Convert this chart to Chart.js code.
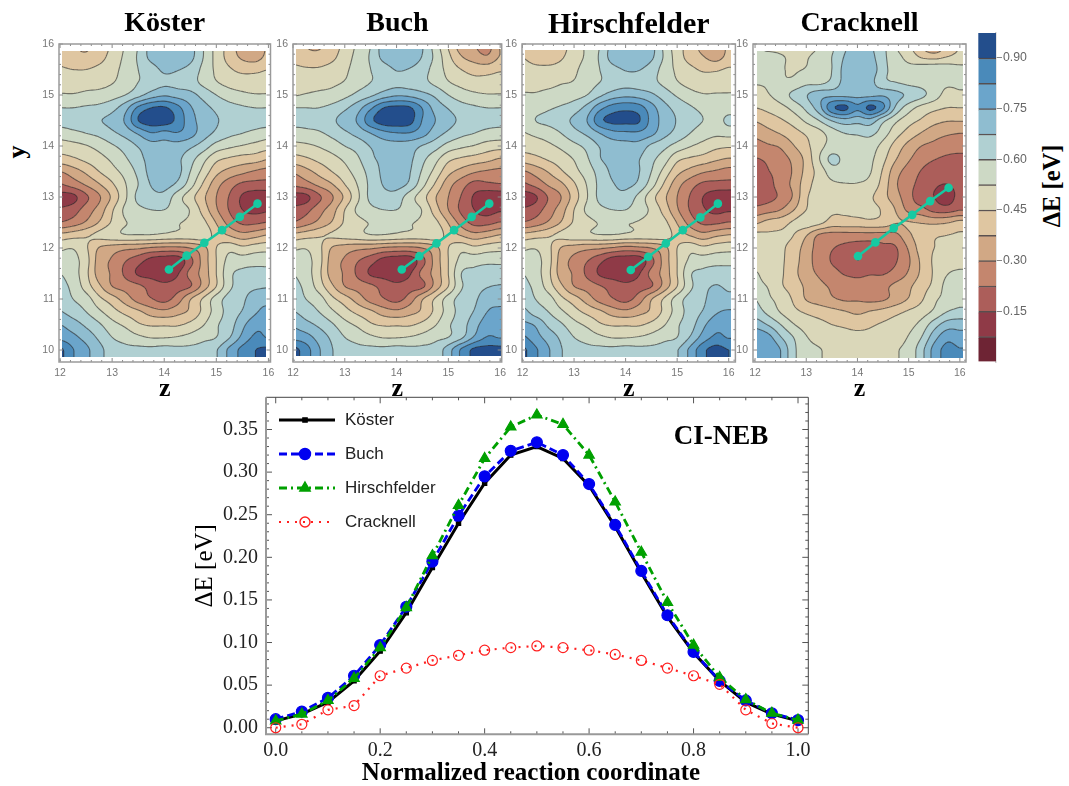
<!DOCTYPE html>
<html>
<head>
<meta charset="utf-8">
<script src="https://cdn.jsdelivr.net/npm/chart.js@4"></script>
<style>
body { margin: 0; background: #fff; width: 1069px; height: 786px; overflow: hidden; position: relative; }
canvas { position: absolute; }
.rot { position: absolute; font-family: "Liberation Serif", serif; font-weight: bold; color: #000; transform: translate(-50%, -50%) rotate(-90deg); white-space: nowrap; }
.xlabel { position: absolute; font-family: "Liberation Serif", serif; font-weight: bold; color: #000; transform: translate(-50%, -50%); white-space: nowrap; z-index: 2; }
</style>
</head>
<body>
<div class="rot" style="left:17px;top:152px;font-size:26px">y</div>
<div class="rot" style="left:1052px;top:186px;font-size:24.5px">ΔE [eV]</div>
<div class="xlabel" style="left:531px;top:772px;font-size:25px">Normalized reaction coordinate</div>
<script>
// potential maps, values in units of 0.01 eV
const zNodes = [12, 12.25, 12.5, 12.75, 13, 13.25, 13.5, 13.75, 14, 14.25, 14.5, 14.75, 15, 15.25, 15.5, 15.75, 16];
const yNodes = [16, 15.75, 15.5, 15.25, 15, 14.75, 14.5, 14.25, 14, 13.75, 13.5, 13.25, 13, 12.75, 12.5, 12.25, 12, 11.75, 11.5, 11.25, 11, 10.75, 10.5, 10.25, 10];

const kosterMap = [
  [42,38,36,40,46,53,60,70,72,72,70,60,50,42,33,28,40],
  [43,40,39,42,48,54,61,70,74,74,70,60,50,42,36,34,40],
  [46,45,45,47,50,55,60,64,69,68,65,58,51,46,43,43,45],
  [51,50,50,50,52,56,60,63,66,65,63,58,53,50,49,49,50],
  [53,53,54,55,57,60,65,71,74,72,70,65,60,56,54,53,53],
  [60,60,61,62,65,72,84,90,91,85,76,70,66,63,61,60,60],
  [63,64,65,67,70,76,90,94,94,88,78,72,68,66,64,63,63],
  [56,58,60,62,66,70,76,82,80,82,78,71,66,62,60,58,56],
  [49,50,52,55,59,63,68,72,72,72,69,64,57,54,52,50,48],
  [42,44,47,50,54,59,65,70,70,69,63,55,47,44,42,41,38],
  [30,34,39,45,50,55,62,70,71,70,60,50,40,35,32,29,27],
  [22,26,31,37,44,52,60,68,70,66,56,44,33,26,21,20,20],
  [12,13,21,29,39,51,62,65,65,56,48,39,30,22,14,11,11],
  [16,19,26,33,44,54,58,60,60,56,52,42,31,22,15,13,14],
  [23,26,31,38,46,52,54,54,54,53,51,47,37,27,21,21,23],
  [40,42,44,47,50,52,52,52,51,50,50,50,42,37,33,35,38],
  [51,52,46,37,34,32,31,29,28,28,30,35,45,50,47,49,50],
  [56,55,48,34,29,23,18,12,10,10,20,33,45,55,56,57,57],
  [60,56,47,34,29,21,14,12,10,14,25,33,45,58,62,63,63],
  [62,58,49,39,30,27,24,20,17,19,22,33,45,58,64,66,67],
  [64,60,56,47,41,34,27,23,20,26,37,46,56,63,66,72,72],
  [68,64,60,54,48,43,39,34,32,35,39,47,56,63,68,74,78],
  [75,71,66,61,55,51,46,44,44,44,47,52,59,64,73,80,82],
  [80,77,72,66,60,57,54,52,52,53,55,58,60,67,77,84,82],
  [92,83,77,70,64,62,62,62,63,62,62,63,67,77,85,90,92]
];
const buchMap = [
  [40,37,36,41,47,54,60,71,73,72,68,56,44,33,30,26,38],
  [42,40,40,43,49,55,61,70,73,73,67,58,47,38,34,31,38],
  [47,46,46,48,51,56,60,64,68,67,63,57,50,45,42,42,44],
  [50,50,50,51,53,57,60,63,65,64,62,58,53,50,48,48,49],
  [52,53,54,55,58,62,66,71,74,73,70,66,60,56,54,53,53],
  [60,60,60,62,66,72,81,90,92,91,82,72,67,63,61,60,60],
  [62,62,63,66,71,76,88,94,95,93,82,75,70,66,63,62,62],
  [57,58,59,62,66,70,75,80,82,82,78,71,66,62,60,58,57],
  [50,51,53,56,60,63,68,71,72,71,67,63,57,54,52,49,48],
  [42,44,47,50,54,59,66,69,70,69,62,55,47,44,42,40,37],
  [31,35,40,45,50,56,63,69,70,68,59,50,40,35,31,29,28],
  [24,27,32,37,45,53,62,68,70,66,55,44,33,26,20,21,22],
  [12,13,21,29,39,51,62,65,64,56,48,38,30,22,14,10,10],
  [17,20,27,34,45,54,58,60,60,56,52,41,30,21,15,12,14],
  [23,27,32,38,46,50,53,53,53,53,51,47,37,27,20,20,23],
  [40,42,44,46,48,50,52,52,51,50,50,50,42,37,33,35,38],
  [51,52,47,37,34,32,31,29,28,28,30,35,45,50,47,49,50],
  [57,55,48,34,29,23,18,12,10,10,20,33,45,55,57,58,58],
  [60,56,47,34,29,21,14,12,10,14,25,33,45,60,62,64,64],
  [62,58,49,39,30,27,24,20,17,19,21,33,45,59,64,67,68],
  [64,60,56,47,41,34,27,23,20,26,37,46,56,63,66,72,72],
  [68,64,60,54,48,43,39,34,32,35,39,47,56,63,68,75,77],
  [74,70,66,61,55,51,46,44,44,44,47,52,59,64,72,79,80],
  [80,78,72,66,60,57,54,52,52,53,55,58,60,66,76,83,82],
  [93,86,76,68,64,62,62,62,63,62,62,63,72,84,92,93,93]
];
const hirschMap = [
  [44,40,38,42,48,54,60,70,72,72,70,58,48,42,34,28,40],
  [45,42,41,44,49,54,61,71,73,73,69,59,49,42,38,34,40],
  [48,47,47,48,51,56,60,65,68,68,64,57,51,47,44,44,46],
  [51,51,51,52,53,57,60,63,65,64,62,58,53,50,49,49,50],
  [53,53,54,55,57,60,66,71,73,72,69,64,59,55,53,53,53],
  [56,57,59,61,64,70,80,86,88,86,78,70,65,61,58,55,56],
  [55,60,62,65,69,75,88,92,92,91,80,72,67,63,60,57,62],
  [52,54,56,60,65,69,75,80,81,81,77,70,65,60,56,54,55],
  [48,49,51,54,58,62,68,71,72,72,66,62,57,53,50,47,46],
  [41,43,46,49,53,59,67,70,70,68,62,56,47,44,42,39,37],
  [29,33,38,44,50,56,63,69,70,68,60,50,40,35,31,29,27],
  [21,25,31,36,44,53,62,67,69,66,56,44,33,26,21,20,20],
  [11,14,23,30,41,52,62,65,65,58,48,39,30,22,15,11,10],
  [16,19,26,34,45,54,58,60,60,56,51,42,31,22,16,13,14],
  [23,26,31,38,46,50,53,53,53,52,50,47,37,27,21,21,23],
  [40,42,44,47,50,51,52,52,51,50,50,49,42,37,33,36,38],
  [51,52,47,37,34,32,31,29,27,28,30,35,45,50,47,49,50],
  [56,55,48,34,28,23,17,11,10,10,20,33,45,54,56,57,57],
  [60,56,47,34,29,21,14,11,10,14,25,33,45,59,62,64,64],
  [62,58,49,39,30,27,23,20,17,19,22,33,45,58,65,68,66],
  [65,60,56,47,41,34,27,23,20,26,37,46,56,63,66,72,70],
  [70,64,60,54,48,43,39,34,32,35,39,47,56,63,68,74,76],
  [77,74,66,61,55,51,46,44,44,44,47,52,59,64,73,80,81],
  [84,78,72,66,60,57,54,52,52,53,55,58,60,68,78,84,82],
  [92,84,76,68,64,62,62,62,63,62,62,63,67,77,88,93,90]
];
const cracknellMap = [
  [50,47,50,52,50,52,58,66,70,68,62,52,46,36,28,38,45],
  [57,56,53,52,52,55,60,68,72,70,62,55,50,44,42,45,47],
  [58,55,53,52,53,56,60,70,74,72,63,56,55,57,58,57,55],
  [53,53,53,54,58,58,62,70,73,70,62,60,58,57,55,54,54],
  [51,52,56,62,67,72,73,73,73,73,74,70,66,62,56,50,51],
  [45,47,50,55,62,72,88,92,84,92,84,66,56,50,47,45,45],
  [38,41,44,48,54,60,68,72,70,72,62,54,48,44,40,38,38],
  [32,35,38,42,46,50,56,60,61,62,56,48,42,37,33,31,30],
  [27,29,31,37,43,50,55,56,56,56,50,42,35,30,28,26,26],
  [22,24,27,32,40,52,62,58,56,54,47,38,31,26,23,21,20],
  [17,22,25,31,40,48,56,57,56,53,44,33,27,22,18,16,17],
  [18,20,26,32,42,48,51,52,52,50,42,31,25,20,16,15,17],
  [18,20,24,31,44,47,47,47,47,46,40,33,25,18,15,11,18],
  [25,27,30,37,45,47,46,46,47,47,44,37,28,25,20,19,22],
  [36,40,42,46,49,47,42,42,42,43,42,38,38,37,36,37,40],
  [47,46,46,45,38,29,27,27,27,27,27,28,36,41,44,45,46],
  [47,46,46,42,34,27,23,21,19,19,21,22,31,41,45,46,47],
  [47,46,46,41,33,27,22,20,15,18,20,22,29,39,46,47,47],
  [54,47,46,40,33,29,25,22,21,22,22,25,31,39,46,52,55],
  [56,52,46,42,36,32,29,27,25,26,28,32,36,42,47,55,57],
  [60,54,50,44,37,34,31,29,29,28,29,33,38,44,51,55,58],
  [64,58,52,47,44,42,40,38,36,38,40,43,46,49,54,60,62],
  [72,67,60,53,49,47,45,44,43,44,46,48,50,55,64,71,72],
  [82,78,68,60,53,50,48,47,47,47,49,50,53,60,72,80,78],
  [80,82,75,62,55,53,51,50,52,50,50,52,55,65,78,85,83]
];

// reaction paths on the maps
const kosterPathZ = [14.09, 14.43, 14.77, 15.11, 15.45, 15.79];
const kosterPathY = [11.58, 11.85, 12.10, 12.35, 12.61, 12.87];
const buchPathZ = [14.10, 14.44, 14.77, 15.11, 15.45, 15.79];
const buchPathY = [11.58, 11.84, 12.09, 12.35, 12.61, 12.87];
const hirschPathZ = [14.10, 14.44, 14.78, 15.11, 15.45, 15.79];
const hirschPathY = [11.57, 11.83, 12.09, 12.35, 12.60, 12.87];
const cracknellPathZ = [14.01, 14.35, 14.71, 15.07, 15.42, 15.78];
const cracknellPathY = [11.84, 12.11, 12.39, 12.65, 12.92, 13.18];

// colour bar
const bandEdges = [0, 0.075, 0.15, 0.225, 0.3, 0.375, 0.45, 0.525, 0.6, 0.675, 0.75, 0.825, 0.9, 0.974];

// CI-NEB curves
const coord = [0, 0.05, 0.1, 0.15, 0.2, 0.25, 0.3, 0.35, 0.4, 0.45, 0.5, 0.55, 0.6, 0.65, 0.7, 0.75, 0.8, 0.85, 0.9, 0.95, 1];
const kosterE = [0.008, 0.016, 0.030, 0.055, 0.090, 0.135, 0.188, 0.240, 0.287, 0.320, 0.330, 0.316, 0.284, 0.236, 0.182, 0.130, 0.088, 0.055, 0.030, 0.016, 0.008];
const buchE = [0.010, 0.019, 0.035, 0.061, 0.097, 0.142, 0.195, 0.249, 0.295, 0.325, 0.335, 0.320, 0.286, 0.238, 0.184, 0.132, 0.089, 0.055, 0.032, 0.017, 0.009];
const hirschE = [0.008, 0.016, 0.032, 0.058, 0.094, 0.141, 0.202, 0.261, 0.316, 0.353, 0.367, 0.356, 0.320, 0.265, 0.206, 0.147, 0.097, 0.059, 0.033, 0.017, 0.009];
const cracknellE = [0.000, 0.004, 0.021, 0.026, 0.061, 0.070, 0.079, 0.085, 0.091, 0.094, 0.096, 0.094, 0.091, 0.086, 0.079, 0.070, 0.061, 0.051, 0.021, 0.005, 0.000];

const bandColors = ['#6e2434', '#8f3a47', '#ac5e5a', '#c4866e', '#d1a885', '#dfc6a1', '#dad7b9', '#cdd9c5', '#b0d0d2', '#8fbdd0', '#6ba5cb', '#4a8aba', '#234e8c'];
const teal = '#16c9a2';
const serif = '"Liberation Serif", serif';
const sans = '"Liberation Sans", sans-serif';

Chart.defaults.animation = false;
Chart.defaults.responsive = false;

function makeCanvas(left, top, width, height) {
    let c = document.createElement('canvas');
    c.width = width;
    c.height = height;
    c.style.left = left + 'px';
    c.style.top = top + 'px';
    document.body.appendChild(c);
    return c;
}

function cubic(a, b, c, d, t) {
    return b + 0.5 * t * (c - a + t * (2 * a - 5 * b + 4 * c - d + t * (3 * (b - c) + d - a)));
}

// smooth lookup between the read nodes, only used for drawing
function sampleMap(map, z, y) {
    let fx = (z - zNodes[0]) / (zNodes[1] - zNodes[0]);
    let fy = (y - yNodes[0]) / (yNodes[1] - yNodes[0]);
    fx = Math.max(0, Math.min(zNodes.length - 1.001, fx));
    fy = Math.max(0, Math.min(yNodes.length - 1.001, fy));
    let ix = Math.floor(fx), iy = Math.floor(fy);
    let rows = [];
    for (let j = -1; j <= 2; j++) {
        let r = map[Math.max(0, Math.min(yNodes.length - 1, iy + j))];
        let at = k => r[Math.max(0, Math.min(zNodes.length - 1, ix + k))];
        rows.push(cubic(at(-1), at(0), at(1), at(2), fx - ix));
    }
    return cubic(rows[0], rows[1], rows[2], rows[3], fy - iy) / 100;
}

function hexToRgb(h) {
    return [parseInt(h.slice(1, 3), 16), parseInt(h.slice(3, 5), 16), parseInt(h.slice(5, 7), 16)];
}

function drawTicks(ctx, chart, scale, step, bigEvery, bigLen, smallLen, color) {
    let a = chart.chartArea;
    let horizontal = scale.isHorizontal();
    let first = Math.ceil(scale.min / step - 1e-6);
    let last = Math.floor(scale.max / step + 1e-6);
    ctx.strokeStyle = color;
    ctx.lineWidth = 1;
    for (let i = first; i <= last; i++) {
        let p = scale.getPixelForValue(i * step);
        let len = i % bigEvery === 0 ? bigLen : smallLen;
        ctx.beginPath();
        if (horizontal) {
            ctx.moveTo(p, a.bottom); ctx.lineTo(p, a.bottom - len);
            ctx.moveTo(p, a.top); ctx.lineTo(p, a.top + len);
        } else {
            ctx.moveTo(a.left, p); ctx.lineTo(a.left + len, p);
            ctx.moveTo(a.right, p); ctx.lineTo(a.right - len, p);
        }
        ctx.stroke();
    }
}

const mapPlugin = {
    id: 'mapPlugin',
    beforeDatasetsDraw(chart, args, opts) {
        const ctx = chart.ctx;
        const sx = chart.scales.x, sy = chart.scales.y;
        const x0 = Math.round(sx.getPixelForValue(opts.zFrom)), x1 = Math.round(sx.getPixelForValue(opts.zTo));
        const y0 = Math.round(sy.getPixelForValue(opts.yFrom)), y1 = Math.round(sy.getPixelForValue(opts.yTo));
        const w = x1 - x0, h = y1 - y0;
        const rgb = bandColors.map(hexToRgb);

        // filled bands
        let off = document.createElement('canvas');
        off.width = w; off.height = h;
        let octx = off.getContext('2d');
        let img = octx.createImageData(w, h);
        for (let j = 0; j < h; j++) {
            let y = sy.getValueForPixel(y0 + j + 0.5);
            for (let i = 0; i < w; i++) {
                let v = sampleMap(opts.map, sx.getValueForPixel(x0 + i + 0.5), y);
                let b = Math.max(0, Math.min(bandColors.length - 1, Math.floor(v / 0.075)));
                let k = (j * w + i) * 4;
                img.data[k] = rgb[b][0]; img.data[k + 1] = rgb[b][1]; img.data[k + 2] = rgb[b][2]; img.data[k + 3] = 255;
            }
        }
        octx.putImageData(img, 0, 0);
        ctx.drawImage(off, x0, y0);

        // contour lines by marching squares on a 2px lattice
        const cell = 2;
        const nx = Math.ceil(w / cell), ny = Math.ceil(h / cell);
        let vals = [];
        for (let j = 0; j <= ny; j++) {
            let row = [];
            let y = sy.getValueForPixel(y0 + j * cell);
            for (let i = 0; i <= nx; i++) row.push(sampleMap(opts.map, sx.getValueForPixel(x0 + i * cell), y));
            vals.push(row);
        }
        ctx.save();
        ctx.beginPath();
        ctx.rect(x0, y0, w, h);
        ctx.clip();
        ctx.strokeStyle = 'rgba(45,45,45,0.62)';
        ctx.lineWidth = 1.1;
        for (let e = 1; e < bandEdges.length - 1; e++) {
            let lev = bandEdges[e];
            ctx.beginPath();
            for (let j = 0; j < ny; j++) {
                for (let i = 0; i < nx; i++) {
                    let a = vals[j][i], b = vals[j][i + 1], c = vals[j + 1][i + 1], d = vals[j + 1][i];
                    let px = x0 + i * cell, py = y0 + j * cell;
                    let pts = [];
                    if ((a < lev) !== (b < lev)) pts.push([px + cell * (lev - a) / (b - a), py]);
                    if ((b < lev) !== (c < lev)) pts.push([px + cell, py + cell * (lev - b) / (c - b)]);
                    if ((d < lev) !== (c < lev)) pts.push([px + cell * (lev - d) / (c - d), py + cell]);
                    if ((a < lev) !== (d < lev)) pts.push([px, py + cell * (lev - a) / (d - a)]);
                    for (let p = 0; p + 1 < pts.length; p += 2) {
                        ctx.moveTo(pts[p][0], pts[p][1]);
                        ctx.lineTo(pts[p + 1][0], pts[p + 1][1]);
                    }
                }
            }
            ctx.stroke();
        }
        ctx.restore();

        // frame and inward ticks
        let a = chart.chartArea;
        drawTicks(ctx, chart, sx, 0.2, 5, 4, 2, '#8a8a8a');
        drawTicks(ctx, chart, sy, 0.2, 5, 4, 2, '#8a8a8a');
        ctx.strokeStyle = '#9a9a9a';
        ctx.lineWidth = 1.5;
        ctx.strokeRect(a.left, a.top, a.right - a.left, a.bottom - a.top);
    }
};

const panelNames = ['Köster', 'Buch', 'Hirschfelder', 'Cracknell'];
const panelTitleSize = [28, 28, 30, 28];
const panelMaps = [kosterMap, buchMap, hirschMap, cracknellMap];
const panelPathZ = [kosterPathZ, buchPathZ, hirschPathZ, cracknellPathZ];
const panelPathY = [kosterPathY, buchPathY, hirschPathY, cracknellPathY];
const frames = [
    {left: 59, right: 270.5, zMin: 11.98, zMax: 16.04, from: 12.04, to: 15.95, yFrom: 15.87, yTo: 9.86},
    {left: 293, right: 501.7, zMin: 12.0, zMax: 16.03, from: 12.05, to: 16.02, yFrom: 15.9, yTo: 9.88},
    {left: 522.3, right: 735.7, zMin: 11.99, zMax: 16.13, from: 12.05, to: 16.05, yFrom: 15.88, yTo: 9.87},
    {left: 753, right: 966, zMin: 11.96, zMax: 16.12, from: 12.04, to: 16.06, yFrom: 15.86, yTo: 9.84}
];

panelNames.forEach(function (name, n) {
    const f = frames[n];
    const axisW = 30, padR = 10;
    const c = makeCanvas(f.left - axisW, 0, Math.ceil(f.right - f.left + axisW + padR), 402);
    const realW = c.width;
    const titleH = panelTitleSize[n] * 1.2;
    new Chart(c.getContext('2d'), {
        type: 'scatter',
        data: {
            datasets: [{
                data: panelPathZ[n].map((z, i) => ({x: z, y: panelPathY[n][i]})),
                showLine: true,
                borderColor: teal,
                backgroundColor: teal,
                borderWidth: 2.5,
                pointRadius: 4.3,
                pointBorderWidth: 0
            }]
        },
        options: {
            layout: {padding: {right: realW - axisW - (f.right - f.left)}},
            plugins: {
                legend: {display: false},
                tooltip: {enabled: false},
                title: {
                    display: true,
                    text: name,
                    color: '#000',
                    fullSize: false,
                    font: {family: serif, weight: 'bold', size: panelTitleSize[n], lineHeight: 1.2},
                    padding: {top: 7, bottom: 44 - 7 - titleH}
                },
                mapPlugin: {map: panelMaps[n], zFrom: f.from, zTo: f.to, yFrom: f.yFrom, yTo: f.yTo}
            },
            scales: {
                x: {
                    type: 'linear',
                    min: f.zMin,
                    max: f.zMax,
                    grid: {display: false, drawTicks: false},
                    border: {display: false},
                    ticks: {stepSize: 1, includeBounds: false, padding: 5, maxRotation: 0, color: '#777', font: {family: sans, size: 10.5}},
                    title: {display: true, text: 'z', color: '#000', font: {family: serif, weight: 'bold', size: 26, lineHeight: 1}, padding: 0},
                    afterFit: s => { s.height = 40; }
                },
                y: {
                    type: 'linear',
                    min: 9.765,
                    max: 16,
                    grid: {display: false, drawTicks: false},
                    border: {display: false},
                    ticks: {stepSize: 1, includeBounds: false, padding: 5, color: '#777', font: {family: sans, size: 10.5}},
                    afterFit: s => { s.width = axisW; }
                }
            }
        },
        plugins: [mapPlugin]
    });
});

// colour bar
new Chart(makeCanvas(970, 0, 70, 400).getContext('2d'), {
    type: 'bar',
    data: {
        labels: ['ΔE'],
        datasets: bandColors.map((col, i) => ({
            data: [[bandEdges[i], bandEdges[i + 1]]],
            backgroundColor: col,
            borderColor: 'rgba(50,40,40,0.8)',
            borderWidth: i < bandColors.length - 1 ? {top: 1.5} : 0,
            borderSkipped: false,
            grouped: false,
            barPercentage: 1,
            categoryPercentage: 1
        }))
    },
    options: {
        layout: {padding: {left: 8.3, top: 33, bottom: 38}},
        plugins: {legend: {display: false}, tooltip: {enabled: false}},
        scales: {
            x: {display: false},
            y: {
                position: 'right',
                min: 0,
                max: 0.974,
                grid: {drawOnChartArea: false, tickLength: 6, tickColor: c => c.tick && c.tick.value > 0 ? '#888' : 'rgba(0,0,0,0)'},
                border: {display: true, color: '#ccc', width: 1.5},
                ticks: {
                    stepSize: 0.15,
                    includeBounds: false,
                    padding: 1,
                    color: '#666',
                    font: {family: sans, size: 12.3},
                    callback: v => v > 0 ? v.toFixed(2) : ''
                },
                afterFit: s => { s.width = 44; }
            }
        }
    }
});

// CI-NEB energy profile
const seriesNames = ['Köster', 'Buch', 'Hirschfelder', 'Cracknell'];
const seriesColors = ['#000000', '#0000f0', '#00a000', '#ff2020'];
const seriesDash = [[], [8, 4], [8, 4, 2, 4], [2, 6]];
const seriesWidth = [3, 2.8, 2.8, 2.2];
const seriesPoint = ['rect', 'circle', 'triangle', 'circle'];
const seriesRadius = [3, 5.5, 6, 5];

function markerFill(i) {
    return i === 3 ? 'rgba(0,0,0,0)' : seriesColors[i];
}

const profilePlugin = {
    id: 'profilePlugin',
    beforeDatasetsDraw(chart) {
        const ctx = chart.ctx;
        const a = chart.chartArea;
        drawTicks(ctx, chart, chart.scales.x, 0.05, 4, 6, 3, '#555');
        drawTicks(ctx, chart, chart.scales.y, 0.01, 5, 6, 3, '#555');
        ctx.strokeStyle = '#444';
        ctx.lineWidth = 1;
        ctx.beginPath();
        ctx.moveTo(a.left, a.top); ctx.lineTo(a.right, a.top); ctx.lineTo(a.right, a.bottom);
        ctx.stroke();
        ctx.strokeStyle = '#999';
        ctx.lineWidth = 2;
        ctx.beginPath();
        ctx.moveTo(a.left, a.top); ctx.lineTo(a.left, a.bottom); ctx.lineTo(a.right, a.bottom);
        ctx.stroke();
    },
    afterDatasetsDraw(chart) {
        const ctx = chart.ctx;
        const rowY = [60, 94, 128, 162];
        ctx.save();
        seriesNames.forEach(function (name, i) {
            ctx.strokeStyle = seriesColors[i];
            ctx.lineWidth = seriesWidth[i];
            ctx.setLineDash(seriesDash[i]);
            ctx.beginPath();
            ctx.moveTo(89, rowY[i]);
            ctx.lineTo(145, rowY[i]);
            ctx.stroke();
            ctx.setLineDash([]);
            ctx.fillStyle = markerFill(i);
            ctx.strokeStyle = seriesColors[i];
            ctx.lineWidth = 1.4;
            Chart.helpers.drawPoint(ctx, {pointStyle: seriesPoint[i], radius: seriesRadius[i], borderWidth: 1.4}, 115, rowY[i]);
            ctx.fillStyle = '#222';
            ctx.font = '17px ' + sans;
            ctx.textAlign = 'left';
            ctx.textBaseline = 'middle';
            ctx.fillText(name, 155, rowY[i]);
        });
        ctx.fillStyle = '#000';
        ctx.font = 'bold 27px ' + serif;
        ctx.textAlign = 'center';
        ctx.fillText('CI-NEB', 531, 77);
        ctx.restore();
    }
};

new Chart(makeCanvas(190, 360, 640, 426).getContext('2d'), {
    type: 'line',
    data: {
        labels: coord,
        // first dataset ends up on top, so the black curve goes last
        datasets: [3, 2, 1, 0].map(i => ({
            label: seriesNames[i],
            data: [cracknellE, hirschE, buchE, kosterE][3 - i].map((v, k) => ({x: coord[k], y: v})),
            borderColor: seriesColors[i],
            borderWidth: seriesWidth[i],
            borderDash: seriesDash[i],
            backgroundColor: markerFill(i),
            pointStyle: seriesPoint[i],
            pointRadius: seriesRadius[i],
            pointBackgroundColor: markerFill(i),
            pointBorderColor: seriesColors[i],
            pointBorderWidth: 1.2,
            tension: 0,
            fill: false
        }))
    },
    options: {
        layout: {padding: {top: 37.3, right: 21.7}},
        plugins: {legend: {display: false}, tooltip: {enabled: false}},
        scales: {
            x: {
                type: 'linear',
                min: -0.0186,
                max: 1.0197,
                grid: {display: false, drawTicks: false},
                border: {display: false},
                ticks: {stepSize: 0.2, includeBounds: false, padding: 4, maxRotation: 0, color: '#222', font: {family: serif, size: 20}, callback: v => v.toFixed(1)},
                afterFit: s => { s.height = 51.7; }
            },
            y: {
                type: 'linear',
                min: -0.0077,
                max: 0.3878,
                grid: {display: false, drawTicks: false},
                border: {display: false},
                ticks: {stepSize: 0.05, includeBounds: false, padding: 8, color: '#222', font: {family: serif, size: 20}, callback: v => v.toFixed(2)},
                title: {display: true, text: 'ΔE [eV]', color: '#000', font: {family: serif, size: 25, lineHeight: 1.1}, padding: {top: 2, bottom: 0}},
                afterFit: s => { s.width = 76; }
            }
        }
    },
    plugins: [profilePlugin]
});
</script>
</body>
</html>
